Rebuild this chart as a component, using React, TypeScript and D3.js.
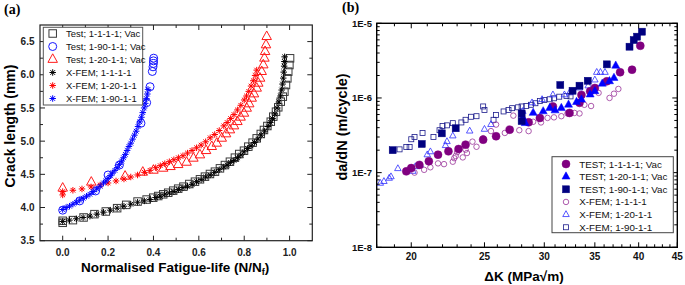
import React from "react";
import * as d3 from "d3";

// ---------- Panel (a): crack length vs normalised fatigue life ----------
const aTest1111: [number, number][] = [
  [0, 3.77], [0, 3.8], [0.045, 3.81], [0.092, 3.85], [0.14, 3.9], [0.19, 3.94], [0.24, 3.99], [0.28, 4.04],
  [0.33, 4.09], [0.37, 4.12], [0.399, 4.148], [0.421, 4.173], [0.443, 4.199], [0.465, 4.223], [0.487, 4.254],
  [0.509, 4.284], [0.532, 4.314], [0.558, 4.354], [0.583, 4.389], [0.605, 4.425], [0.627, 4.465],
  [0.649, 4.505], [0.671, 4.54], [0.693, 4.59], [0.715, 4.64], [0.737, 4.69], [0.759, 4.751],
  [0.778, 4.806], [0.799, 4.856], [0.818, 4.917], [0.837, 4.977], [0.855, 5.042], [0.873, 5.108],
  [0.887, 5.168], [0.902, 5.228], [0.917, 5.293], [0.928, 5.369], [0.94, 5.444], [0.95, 5.51],
  [0.961, 5.595], [0.97, 5.67], [0.977, 5.745], [0.984, 5.846], [0.99, 5.946], [0.994, 6.047],
  [0.999, 6.147], [1.002, 6.248],
];
const aTest19011: [number, number][] = [
  [0, 3.96], [0.075, 4.1], [0.145, 4.25], [0.2, 4.49], [0.25, 4.64], [0.345, 5.27], [0.37, 5.58],
  [0.385, 5.82], [0.395, 6.05], [0.398, 6.12], [0.4, 6.17], [0.4, 6.21], [0.401, 6.25],
];
const aTest12011: [number, number][] = [
  [0, 4.29], [0.126, 4.38], [0.275, 4.47], [0.353, 4.53], [0.4, 4.56], [0.443, 4.59], [0.475, 4.615],
  [0.509, 4.645], [0.546, 4.68], [0.576, 4.741], [0.605, 4.791], [0.632, 4.856], [0.657, 4.917],
  [0.679, 4.967], [0.701, 5.042], [0.72, 5.108], [0.737, 5.168], [0.755, 5.228], [0.77, 5.293],
  [0.784, 5.359], [0.799, 5.419], [0.811, 5.494], [0.822, 5.56], [0.833, 5.645], [0.843, 5.71],
  [0.855, 5.796], [0.862, 5.871], [0.87, 5.946], [0.877, 6.047], [0.884, 6.147], [0.889, 6.248],
  [0.892, 6.348], [0.896, 6.449], [0.899, 6.574],
];
const aXfem1111: [number, number][] = [
  [0, 3.79], [0.03, 3.81], [0.06, 3.83], [0.09, 3.85], [0.12, 3.87], [0.15, 3.9], [0.18, 3.93], [0.21, 3.96],
  [0.24, 3.99], [0.27, 4.02], [0.3, 4.05], [0.33, 4.08], [0.36, 4.1], [0.385, 4.12], [0.41, 4.15],
  [0.43, 4.17], [0.45, 4.2], [0.47, 4.22], [0.49, 4.24], [0.51, 4.27], [0.53, 4.3], [0.55, 4.32],
  [0.57, 4.35], [0.59, 4.39], [0.61, 4.42], [0.63, 4.46], [0.65, 4.49], [0.67, 4.53], [0.69, 4.57],
  [0.71, 4.61], [0.725, 4.64], [0.74, 4.68], [0.755, 4.71], [0.77, 4.75], [0.785, 4.79], [0.8, 4.84],
  [0.815, 4.89], [0.83, 4.93], [0.845, 4.98], [0.86, 5.03], [0.875, 5.09], [0.89, 5.15], [0.905, 5.22],
  [0.915, 5.28], [0.925, 5.34], [0.935, 5.41], [0.945, 5.5], [0.953, 5.59], [0.96, 5.68], [0.965, 5.77],
  [0.969, 5.86], [0.972, 5.95], [0.974, 6.04], [0.976, 6.13], [0.977, 6.2], [0.978, 6.27],
];
const aXfem12011: [number, number][] = [
  [0, 4.19], [0, 4.24], [0.045, 4.26], [0.085, 4.28], [0.125, 4.31], [0.165, 4.34], [0.2, 4.37],
  [0.235, 4.4], [0.27, 4.43], [0.3, 4.46], [0.33, 4.49], [0.36, 4.53], [0.385, 4.56], [0.41, 4.6],
  [0.43, 4.63], [0.45, 4.66], [0.47, 4.69], [0.49, 4.72], [0.51, 4.75], [0.53, 4.78], [0.55, 4.82],
  [0.57, 4.86], [0.59, 4.9], [0.61, 4.94], [0.63, 4.99], [0.65, 5.05], [0.67, 5.1], [0.69, 5.16],
  [0.71, 5.23], [0.725, 5.28], [0.74, 5.34], [0.755, 5.4], [0.77, 5.47], [0.785, 5.54], [0.8, 5.62],
  [0.81, 5.68], [0.82, 5.75], [0.83, 5.83], [0.84, 5.91], [0.848, 5.99], [0.855, 6.07],
];
const aXfem19011: [number, number][] = [
  [0, 3.97], [0.015, 4.0], [0.03, 4.02], [0.045, 4.05], [0.06, 4.08], [0.075, 4.11], [0.09, 4.14],
  [0.105, 4.17], [0.12, 4.2], [0.135, 4.24], [0.15, 4.28], [0.165, 4.32], [0.18, 4.37], [0.19, 4.4],
  [0.2, 4.44], [0.21, 4.48], [0.22, 4.52], [0.23, 4.56], [0.24, 4.6], [0.25, 4.65], [0.26, 4.7],
  [0.268, 4.75], [0.276, 4.8], [0.284, 4.86], [0.292, 4.92], [0.3, 4.97], [0.308, 5.03], [0.316, 5.09],
  [0.324, 5.15], [0.332, 5.22], [0.34, 5.29], [0.347, 5.36], [0.353, 5.43], [0.359, 5.5], [0.364, 5.57],
  [0.369, 5.64], [0.373, 5.71], [0.376, 5.78],
];
const aXTicks = [0, 0.2, 0.4, 0.6, 0.8, 1.0];
const aXMinor = [0.1, 0.3, 0.5, 0.7, 0.9];
const aYTicks = [3.5, 4.0, 4.5, 5.0, 5.5, 6.0, 6.5];
const aYMinor = [3.75, 4.25, 4.75, 5.25, 5.75, 6.25];
const aLegend = [
  "Test; 1-1-1-1; Vac", "Test; 1-90-1-1; Vac", "Test; 1-20-1-1; Vac",
  "X-FEM; 1-1-1-1", "X-FEM; 1-20-1-1", "X-FEM; 1-90-1-1",
];

// ---------- Panel (b): da/dN vs ΔK ----------
const bTest1111: [number, number][] = [
  [19.7, 1.04e-7], [20.0, 1.15e-7], [20.5, 1.27e-7], [21.1, 1.42e-7], [21.7, 1.74e-7], [22.4, 1.93e-7],
  [23.1, 2.07e-7], [23.6, 2.37e-7], [24.9, 2.76e-7], [25.9, 3.07e-7], [27.0, 3.76e-7], [28.6, 4.72e-7],
  [29.6, 5.39e-7], [30.8, 7.7e-7], [32.4, 6.3e-7], [33.4, 8.6e-7], [33.6, 1.1e-6], [34.5, 1.23e-6],
  [35.0, 1.36e-6], [36.3, 1.67e-6], [37.8, 2.21e-6], [39.2, 2.39e-6], [40.2, 5.0e-6],
];
const bTest12011: [number, number][] = [
  [28.1, 5.4e-7], [28.3, 4.6e-7], [29.0, 6.3e-7], [29.9, 6.6e-7], [30.5, 7.3e-7], [31.0, 6.8e-7],
  [31.6, 7.3e-7], [32.3, 8.1e-7], [33.1, 8.8e-7], [33.6, 9.5e-7], [34.5, 1.11e-6], [35.0, 1.23e-6],
  [35.8, 1.55e-6], [36.6, 1.67e-6], [37.1, 1.85e-6], [37.3, 2.7e-6],
];
const bTest19011: [number, number][] = [
  [18.9, 2.0e-7], [20.65, 2.42e-7], [21.95, 3.36e-7], [22.9, 3.93e-7], [28.0, 6.2e-7], [28.0, 4.9e-7],
  [31.5, 1.49e-6], [32.7, 1.25e-6], [33.4, 1.46e-6], [34.25, 1.7e-6], [36.3, 2.82e-6], [38.9, 4.86e-6],
  [39.4, 5.97e-6], [39.8, 6.62e-6], [40.4, 7.72e-6],
];
const bXfem1111: [number, number][] = [
  [20.2, 1.0e-7], [20.8, 1.09e-7], [21.2, 1.18e-7], [21.7, 1.33e-7], [22.1, 1.3e-7], [22.7, 1.4e-7],
  [22.8, 1.56e-7], [22.9, 1.67e-7], [23.0, 1.88e-7], [23.4, 1.6e-7], [23.6, 2.03e-7], [23.7, 1.83e-7],
  [24.1, 2.6e-7], [24.4, 2.22e-7], [24.9, 2.9e-7], [25.5, 3.6e-7], [25.9, 4.4e-7], [26.6, 3.4e-7],
  [27.3, 5.8e-7], [27.8, 3.7e-7], [28.6, 3.6e-7], [29.0, 4.8e-7], [29.7, 4.7e-7], [30.3, 5.4e-7],
  [30.9, 5.5e-7], [31.6, 5.7e-7], [32.2, 6.2e-7], [32.9, 6.3e-7], [33.4, 6.2e-7], [33.9, 8.1e-7],
  [34.6, 7.8e-7], [35.4, 1.17e-6], [36.6, 1.0e-6], [37.1, 1.14e-6], [37.6, 1.32e-6],
];
const bXfem12011: [number, number][] = [
  [18.2, 7.2e-8], [18.4, 7.6e-8], [18.7, 8.4e-8], [18.8, 8.8e-8], [19.2, 1.13e-7], [20.1, 1.04e-7],
  [20.25, 1.2e-7], [20.55, 1.27e-7], [21.0, 1.73e-7], [21.2, 1.9e-7], [22.2, 2.3e-7], [22.3, 2.6e-7],
  [22.7, 3.1e-7], [23.9, 3.6e-7], [25.0, 3.8e-7], [25.5, 4.4e-7], [28.1, 6.6e-7], [28.9, 8.6e-7],
  [29.8, 9.5e-7], [30.8, 1.1e-6], [31.9, 1.1e-6], [32.4, 1.17e-6], [33.4, 1.36e-6], [34.3, 1.45e-6],
  [35.0, 1.74e-6], [35.2, 2.2e-6], [35.6, 2.2e-6], [36.1, 2.2e-6],
];
const bXfem19011: [number, number][] = [
  [19.3, 2.05e-7], [19.7, 2.2e-7], [19.9, 2.2e-7], [20.0, 2.8e-7], [20.2, 3.0e-7], [20.7, 3.4e-7],
  [21.4, 3.0e-7], [21.8, 3.7e-7], [22.0, 4.2e-7], [22.3, 4.3e-7], [22.7, 4.6e-7], [23.3, 4.7e-7],
  [23.6, 5.1e-7], [24.0, 5.6e-7], [24.4, 5.7e-7], [24.9, 7.7e-7], [25.0, 6.9e-7], [25.7, 5.1e-7],
  [25.9, 5.9e-7], [26.5, 6.6e-7], [26.9, 6.9e-7], [27.2, 7.3e-7], [27.7, 7.5e-7], [28.0, 7.7e-7],
  [28.4, 7.8e-7], [28.8, 8.1e-7], [29.2, 8.5e-7], [29.6, 9.1e-7], [30.0, 9.4e-7], [30.5, 9.6e-7],
  [30.9, 9.9e-7], [31.4, 1.04e-6], [32.1, 1.06e-6], [32.5, 1.05e-6],
];
const bXTicks = [20, 25, 30, 35, 40, 45];
const bXMinor = [18, 19, 21, 22, 23, 24, 26, 27, 28, 29, 31, 32, 33, 34, 36, 37, 38, 39, 41, 42, 43, 44];
const bYTicks = [1e-8, 1e-7, 1e-6, 1e-5];
const bYTickLabels = ["1E-8", "1E-7", "1E-6", "1E-5"];
const bLegend = [
  "TEST; 1-1-1-1; Vac", "TEST; 1-20-1-1; Vac", "TEST; 1-90-1-1; Vac",
  "X-FEM; 1-1-1-1", "X-FEM; 1-20-1-1", "X-FEM; 1-90-1-1",
];

const SANS = "'Liberation Sans', Arial, Helvetica, sans-serif";
const SERIF = "'Liberation Serif', 'Times New Roman', serif";

type Kind = "square" | "circle" | "triangle" | "asterisk";
function Marker(p: { kind: Kind; x: number; y: number; s: number; stroke: string; fill?: string; sw?: number }) {
  const { kind, x, y, s, stroke } = p;
  const fill = p.fill ?? "none";
  const sw = p.sw ?? 1;
  if (kind === "square")
    return <rect x={x - s / 2} y={y - s / 2} width={s} height={s} fill={fill} stroke={stroke} strokeWidth={sw} />;
  if (kind === "circle") return <circle cx={x} cy={y} r={s / 2} fill={fill} stroke={stroke} strokeWidth={sw} />;
  if (kind === "triangle") {
    const h = s * 0.9;
    const d = `M${x},${y - (h * 2) / 3}L${x + s / 2},${y + h / 3}L${x - s / 2},${y + h / 3}Z`;
    return <path d={d} fill={fill} stroke={stroke} strokeWidth={sw} strokeLinejoin="miter" />;
  }
  const r = s / 2;
  const q = r * 0.72;
  const d = `M${x - r},${y}H${x + r}M${x},${y - r}V${y + r}M${x - q},${y - q}L${x + q},${y + q}M${x - q},${y + q}L${x + q},${y - q}`;
  return <path d={d} stroke={stroke} strokeWidth={sw} fill="none" />;
}

export default function App() {
  // panel (a) scales
  const ax = d3.scaleLinear().domain([-0.1, 1.1]).range([40, 312.3]);
  const ay = d3.scaleLinear().domain([3.5, 6.75]).range([240.7, 25]);
  // panel (b) scales
  const bx = d3.scaleLog().domain([18, 45]).range([376.7, 677.3]);
  const by = d3.scaleLog().domain([1e-8, 1e-5]).range([247.3, 23.3]);

  const [aL, aR] = ax.range();
  const [aB, aT] = ay.range();
  const [bL, bR] = bx.range();
  const [bB, bT] = by.range();

  const bYMinor: number[] = [];
  [1e-8, 1e-7, 1e-6].forEach((dec) => {
    for (let k = 2; k <= 9; k++) bYMinor.push(dec * k);
  });

  const aSeries: { data: [number, number][]; kind: Kind; color: string; s: number }[] = [
    { data: aTest1111, kind: "square", color: "#3a3a3a", s: 7.5 },
    { data: aTest19011, kind: "circle", color: "#1515ff", s: 8 },
    { data: aTest12011, kind: "triangle", color: "#ff1a1a", s: 9.5 },
    { data: aXfem1111, kind: "asterisk", color: "#000000", s: 6.5 },
    { data: aXfem12011, kind: "asterisk", color: "#ff0000", s: 6.5 },
    { data: aXfem19011, kind: "asterisk", color: "#0000ff", s: 6.5 },
  ];

  const PURPLE = "#800080";
  const NAVY = "#000080";
  const BLUE = "#0000ff";
  const bSeries: { data: [number, number][]; kind: Kind; stroke: string; fill: string; s: number; sw: number }[] = [
    { data: bXfem19011, kind: "square", stroke: "#1c1c8c", fill: "none", s: 5, sw: 0.8 },
    { data: bXfem12011, kind: "triangle", stroke: "#2f2fff", fill: "none", s: 6.5, sw: 0.8 },
    { data: bXfem1111, kind: "circle", stroke: "#993399", fill: "none", s: 5.5, sw: 0.8 },
    { data: bTest1111, kind: "circle", stroke: PURPLE, fill: PURPLE, s: 8, sw: 0.5 },
    { data: bTest12011, kind: "triangle", stroke: BLUE, fill: BLUE, s: 8, sw: 0.5 },
    { data: bTest19011, kind: "square", stroke: NAVY, fill: NAVY, s: 7, sw: 0.5 },
  ];
  const bLegendMarks = [bSeries[3], bSeries[4], bSeries[5], bSeries[2], bSeries[1], bSeries[0]];

  return (
    <svg
      width={685}
      height={285}
      viewBox="0 0 685 285"
      style={{ position: "fixed", left: 0, top: 0, background: "#fff" }}
    >
      <rect x={0} y={0} width={685} height={285} fill="#fff" />

      {/* ================= Panel (a) ================= */}
      <text x={4} y={14} fontFamily={SERIF} fontWeight="bold" fontSize={14}>(a)</text>

      <clipPath id="clipA">
        <rect x={aL} y={aT} width={aR - aL} height={aB - aT} />
      </clipPath>
      <g clipPath="url(#clipA)">
        {aSeries.map((ser, i) => (
          <g key={i}>
            {ser.data.map((d, j) => (
              <Marker key={j} kind={ser.kind} x={ax(d[0])} y={ay(d[1])} s={ser.s} stroke={ser.color} sw={1} />
            ))}
          </g>
        ))}
      </g>

      {/* ticks */}
      <g stroke="#222" strokeWidth={1}>
        {aXTicks.map((t) => (
          <g key={"ax" + t}>
            <line x1={ax(t)} x2={ax(t)} y1={aB} y2={aB - 5} />
            <line x1={ax(t)} x2={ax(t)} y1={aT} y2={aT + 5} />
          </g>
        ))}
        {aXMinor.map((t) => (
          <g key={"axm" + t}>
            <line x1={ax(t)} x2={ax(t)} y1={aB} y2={aB - 3} />
            <line x1={ax(t)} x2={ax(t)} y1={aT} y2={aT + 3} />
          </g>
        ))}
        {aYTicks.map((t) => (
          <g key={"ay" + t}>
            <line x1={aL} x2={aL + 5} y1={ay(t)} y2={ay(t)} />
            <line x1={aR} x2={aR - 5} y1={ay(t)} y2={ay(t)} />
          </g>
        ))}
        {aYMinor.map((t) => (
          <g key={"aym" + t}>
            <line x1={aL} x2={aL + 3} y1={ay(t)} y2={ay(t)} />
            <line x1={aR} x2={aR - 3} y1={ay(t)} y2={ay(t)} />
          </g>
        ))}
      </g>
      <rect x={aL} y={aT} width={aR - aL} height={aB - aT} fill="none" stroke="#222" strokeWidth={1.2} />

      {/* tick labels */}
      <g fontFamily={SANS} fontWeight="bold" fontSize={10} fill="#222">
        {aXTicks.map((t) => (
          <text key={"axl" + t} x={ax(t)} y={256} textAnchor="middle">{d3.format(".1f")(t)}</text>
        ))}
        {aYTicks.map((t) => (
          <text key={"ayl" + t} x={34.5} y={ay(t) + 3.6} textAnchor="end">{d3.format(".1f")(t)}</text>
        ))}
      </g>

      {/* axis titles */}
      <text x={(aL + aR) / 2 - 1} y={272} textAnchor="middle" fontFamily={SANS} fontWeight="bold" fontSize={13.5}>
        Normalised Fatigue-life (N/N<tspan fontSize={9} dy={3}>f</tspan><tspan dy={-3}>)</tspan>
      </text>
      <text
        transform={`translate(15,${126}) rotate(-90)`}
        textAnchor="middle"
        fontFamily={SANS}
        fontWeight="bold"
        fontSize={14}
      >
        Crack length (mm)
      </text>

      {/* legend (a) */}
      <rect x={43.3} y={27.3} width={99.4} height={77.7} fill="#fff" stroke="#555" strokeWidth={1} />
      {aLegend.map((lab, i) => {
        const ser = aSeries[i];
        const yy = 33.5 + i * 13;
        return (
          <g key={"al" + i}>
            <Marker kind={ser.kind} x={52.7} y={yy} s={ser.kind === "asterisk" ? 6.5 : ser.s} stroke={ser.color} sw={1} />
            <text x={66} y={yy + 3.4} fontFamily={SANS} fontSize={9.5} fill="#111">{lab}</text>
          </g>
        );
      })}

      {/* ================= Panel (b) ================= */}
      <text x={342} y={12} fontFamily={SERIF} fontWeight="bold" fontSize={14}>(b)</text>

      <clipPath id="clipB">
        <rect x={bL} y={bT} width={bR - bL} height={bB - bT} />
      </clipPath>
      <g clipPath="url(#clipB)">
        {bSeries.map((ser, i) => (
          <g key={i}>
            {ser.data.map((d, j) => (
              <Marker key={j} kind={ser.kind} x={bx(d[0])} y={by(d[1])} s={ser.s} stroke={ser.stroke} fill={ser.fill} sw={ser.sw} />
            ))}
          </g>
        ))}
      </g>

      <g stroke="#000" strokeWidth={1}>
        {bXTicks.map((t) => (
          <g key={"bx" + t}>
            <line x1={bx(t)} x2={bx(t)} y1={bB} y2={bB - 5} />
            <line x1={bx(t)} x2={bx(t)} y1={bT} y2={bT + 5} />
          </g>
        ))}
        {bXMinor.map((t) => (
          <g key={"bxm" + t}>
            <line x1={bx(t)} x2={bx(t)} y1={bB} y2={bB - 3} />
            <line x1={bx(t)} x2={bx(t)} y1={bT} y2={bT + 3} />
          </g>
        ))}
        {bYTicks.map((t) => (
          <g key={"by" + t}>
            <line x1={bL} x2={bL + 5} y1={by(t)} y2={by(t)} />
            <line x1={bR} x2={bR - 5} y1={by(t)} y2={by(t)} />
          </g>
        ))}
        {bYMinor.map((t, i) => (
          <g key={"bym" + i}>
            <line x1={bL} x2={bL + 3} y1={by(t)} y2={by(t)} />
            <line x1={bR} x2={bR - 3} y1={by(t)} y2={by(t)} />
          </g>
        ))}
      </g>
      <rect x={bL} y={bT} width={bR - bL} height={bB - bT} fill="none" stroke="#000" strokeWidth={1.4} />

      <g fontFamily={SANS} fontWeight="bold" fontSize={10} fill="#111">
        {bXTicks.map((t) => (
          <text key={"bxl" + t} x={bx(t)} y={260} textAnchor="middle">{t}</text>
        ))}
        {bYTicks.map((t, i) => (
          <text key={"byl" + i} x={372} y={by(t) + 3.5} textAnchor="end" fontSize={9.5}>{bYTickLabels[i]}</text>
        ))}
      </g>

      <text x={524} y={281} textAnchor="middle" fontFamily={SANS} fontWeight="bold" fontSize={13.5}>
        ΔK (MPa√m)
      </text>
      <text
        transform={`translate(347,${127}) rotate(-90)`}
        textAnchor="middle"
        fontFamily={SANS}
        fontWeight="bold"
        fontSize={14.5}
      >
        da/dN (m/cycle)
      </text>

      {/* legend (b) */}
      <rect x={552} y={156.7} width={121.3} height={76} fill="#fff" stroke="#444" strokeWidth={1} />
      {bLegend.map((lab, i) => {
        const ser = bLegendMarks[i];
        const yy = 164 + i * 12.65;
        return (
          <g key={"bl" + i}>
            <Marker kind={ser.kind} x={566} y={yy} s={ser.s} stroke={ser.stroke} fill={ser.fill} sw={ser.sw} />
            <text x={579.3} y={yy + 3.5} fontFamily={SANS} fontSize={9.8} fill="#111">{lab}</text>
          </g>
        );
      })}
    </svg>
  );
}
